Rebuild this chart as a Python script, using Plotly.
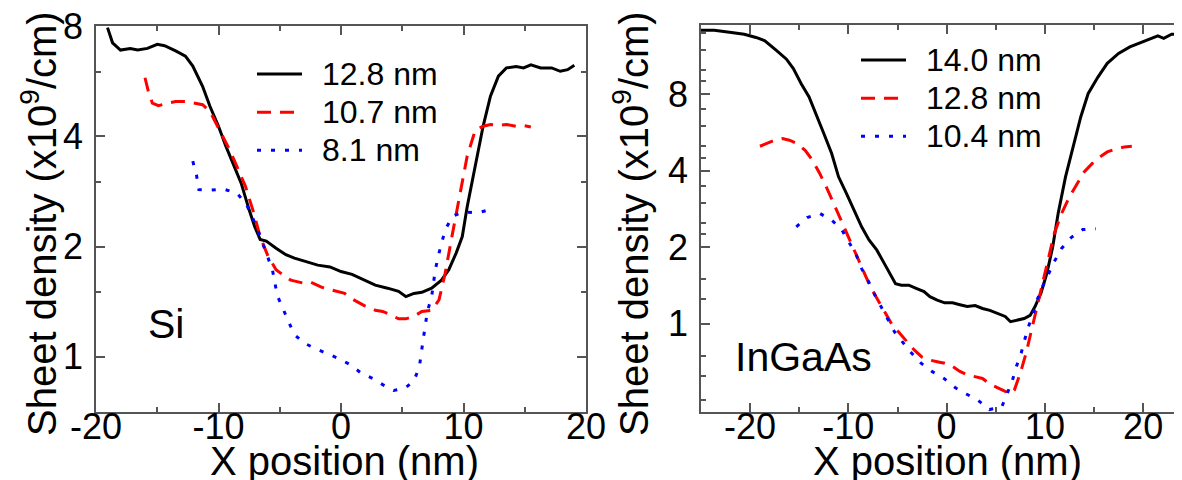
import plotly.graph_objects as go
import math

# ---------------- data: Si panel ----------------
si_x_128 = [-19.06, -18.65, -18.0, -17.2, -16.6, -15.8, -15.0, -14.4, -13.5, -12.7, -12.1, -11.3, -10.7,
            -10.0, -9.4, -8.8, -8.15, -7.5, -7.05, -6.6, -6.1, -5.3, -4.5, -3.8, -2.8, -1.9, -0.9, 0.0,
            0.9, 1.9, 2.8, 3.8, 4.7, 5.3, 5.95, 6.6, 7.4, 8.2, 8.8, 9.4, 9.9, 10.3, 10.95, 11.6, 12.2,
            12.85, 13.5, 14.3, 14.9, 15.5, 16.3, 17.2, 17.9, 18.5, 19.05]
si_y_128 = [7.92, 7.20, 6.88, 6.95, 6.88, 6.95, 7.13, 7.07, 6.84, 6.62, 6.22, 5.48, 4.83,
            4.26, 3.76, 3.38, 2.98, 2.52, 2.27, 2.09, 2.07, 1.98, 1.90, 1.86, 1.82, 1.78, 1.76, 1.71,
            1.68, 1.62, 1.57, 1.54, 1.51, 1.46, 1.49, 1.50, 1.54, 1.62, 1.73, 1.92, 2.13, 2.57, 3.31,
            4.26, 5.15, 5.84, 6.15, 6.20, 6.15, 6.27, 6.15, 6.15, 6.02, 6.08, 6.25]

si_x_107 = [-16.0, -15.7, -15.4, -14.9, -14.1, -13.5, -12.7, -11.9, -11.3, -10.7, -9.9, -9.1, -8.5,
            -7.8, -7.2, -6.6, -5.95, -5.3, -4.7, -4.1, -3.1, -2.5, -1.6, -0.6, 0.3, 0.9, 1.9, 2.8,
            3.4, 4.1, 4.7, 5.3, 5.95, 6.6, 7.4, 8.0, 8.5, 9.1, 9.7, 10.3, 10.97, 11.6, 12.2, 12.85,
            13.5, 14.3, 14.9, 15.5]
si_y_107 = [5.78, 5.26, 4.93, 4.85, 4.93, 4.98, 4.98, 4.93, 4.88, 4.68, 4.17, 3.68, 3.31,
            2.92, 2.52, 2.13, 1.88, 1.73, 1.67, 1.62, 1.59, 1.60, 1.55, 1.52, 1.49, 1.44, 1.38, 1.34,
            1.33, 1.30, 1.27, 1.27, 1.29, 1.33, 1.34, 1.43, 1.69, 2.17, 2.80, 3.53, 4.17, 4.26, 4.31,
            4.28, 4.31, 4.26, 4.28, 4.24]

si_x_81 = [-12.1, -11.8, -11.6, -10.7, -9.6, -8.5, -7.7, -6.9, -6.3, -5.6, -5.2, -4.7, -4.2, -3.8,
           -3.0, -2.0, -1.1, -0.2, 0.8, 1.7, 2.7, 3.4, 4.3, 5.2, 5.95, 6.4, 6.7, 7.05, 7.4, 7.7, 8.0,
           8.5, 9.1, 10.0, 11.1, 12.1]
si_y_81 = [3.42, 3.14, 2.86, 2.85, 2.87, 2.80, 2.60, 2.27, 2.00, 1.73, 1.47, 1.34, 1.23, 1.15,
           1.09, 1.05, 1.02, 0.99, 0.95, 0.90, 0.87, 0.84, 0.81, 0.82, 0.86, 0.94, 1.11, 1.33, 1.46,
           1.73, 1.92, 2.22, 2.42, 2.49, 2.47, 2.52]

# ---------------- data: InGaAs panel ----------------
ig_x_140 = [-25.0, -23.65, -22.1, -20.6, -19.4, -18.5, -17.3, -16.3, -15.6, -14.8, -14.0, -13.3, -12.5,
            -11.7, -11.0, -10.2, -9.4, -8.65, -7.9, -7.1, -6.35, -5.8, -5.2, -4.6, -3.85, -3.1, -2.3,
            -1.7, -0.96, -0.2, 0.6, 1.35, 2.1, 2.9, 3.65, 4.4, 5.2, 5.96, 6.5, 7.1, 7.9, 8.5, 9.0,
            9.6, 10.2, 10.8, 11.35, 12.1, 12.9, 13.65, 14.4, 15.4, 16.35, 17.5, 18.65, 19.8, 20.96,
            21.5, 22.1, 22.9, 23.85, 25.0]
ig_y_140 = [14.3, 14.3, 14.05, 13.8, 13.4, 13.0, 11.9, 11.0, 10.1, 8.81, 7.81, 6.72, 5.61,
            4.68, 3.79, 3.26, 2.80, 2.41, 2.14, 1.95, 1.73, 1.58, 1.44, 1.42, 1.42, 1.38, 1.34,
            1.28, 1.24, 1.21, 1.21, 1.19, 1.17, 1.18, 1.15, 1.13, 1.10, 1.07, 1.02, 1.03, 1.05, 1.08, 1.17,
            1.32, 1.58, 2.01, 2.72, 3.79, 4.97, 6.52, 8.05, 9.36, 10.6, 11.6, 12.3, 12.8, 13.4,
            13.6, 13.3, 13.8, 13.8, 13.9]

ig_x_128 = [-19.0, -18.3, -17.5, -16.7, -16.0, -15.2, -14.4, -13.65, -12.9, -12.1, -11.35, -10.8, -10.2,
            -9.4, -8.65, -7.9, -7.1, -6.35, -5.6, -4.8, -4.0, -3.3, -2.5, -1.7, -0.96, -0.2, 0.6, 1.35,
            2.1, 2.9, 3.65, 4.4, 5.2, 5.96, 6.5, 6.9, 7.5, 8.1, 8.65, 9.2, 9.8, 10.4, 10.96, 11.7,
            12.5, 13.3, 14.0, 14.8, 15.6, 16.35, 17.1, 18.1, 18.85]
ig_y_128 = [5.0, 5.12, 5.28, 5.36, 5.28, 5.12, 4.82, 4.40, 3.90, 3.36, 2.89, 2.56, 2.27,
            1.95, 1.68, 1.44, 1.26, 1.12, 1.00, 0.92, 0.85, 0.79, 0.74, 0.72, 0.71, 0.70, 0.68, 0.65,
            0.63, 0.62, 0.61, 0.58, 0.56, 0.54, 0.53, 0.55, 0.64, 0.77, 0.95, 1.17, 1.49, 1.84, 2.27, 2.72,
            3.16, 3.57, 3.96, 4.27, 4.54, 4.75, 4.86, 4.97, 5.0]

ig_x_104 = [-15.3, -14.2, -12.9, -11.65, -10.65, -9.9, -9.2, -8.65, -7.95, -7.4, -6.7, -6.0, -5.3,
            -4.5, -3.6, -2.6, -1.5, -0.27, 0.9, 2.0, 3.2, 4.35, 5.6, 6.15, 6.7, 7.1, 7.6, 7.96, 8.35,
            8.85, 9.2, 9.8, 10.4, 11.0, 11.7, 12.7, 13.85, 15.2]
ig_y_104 = [2.41, 2.62, 2.72, 2.55, 2.34, 2.09, 1.87, 1.65, 1.47, 1.32, 1.17, 1.04, 0.93,
            0.85, 0.77, 0.70, 0.65, 0.61, 0.56, 0.53, 0.50, 0.46, 0.47, 0.53, 0.60, 0.68, 0.77, 0.87, 0.98,
            1.11, 1.24, 1.41, 1.58, 1.77, 1.98, 2.19, 2.35, 2.37]

si_names = ["12.8 nm", "10.7 nm", "8.1 nm"]
ig_names = ["14.0 nm", "12.8 nm", "10.4 nm"]

y_tick_vals = [1, 2, 4, 8]
y_tick_text = ["1", "2", "4", "8"]
si_minor_y = [1.5, 3, 6]
ig_minor_y = [0.5, 0.625, 0.75, 1.25, 1.5, 2.25, 2.5, 3, 3.5, 4.5, 5, 6, 7, 9, 10, 12, 14]
x_ticks = [-20, -10, 0, 10, 20]
x_minor = [-15, -5, 5, 15]

FONT = "Liberation Sans, Arial, Helvetica, sans-serif"
W, H = 1182, 480
OFF = 8  # the page body adds an 8px margin; positions below are given in window pixels
AX = "#555555"


def px(xs):
    return (xs - OFF) / W


def py(ys):
    return 1 - (ys - OFF) / H


fig = go.Figure()


def add(x, y, name, color, dash, xa, ya, leg):
    label = "\u00a0\u00a0<span style='font-size:32px'>" + name + "</span>"
    fig.add_trace(go.Scatter(x=x, y=y, mode="lines", name=label, xaxis=xa, yaxis=ya, legend=leg,
                             line=dict(color=color, width=3, dash=dash)))


add(si_x_128, si_y_128, si_names[0], "black", "solid", "x", "y", "legend")
add(si_x_107, si_y_107, si_names[1], "#ff0000", "14px,9px", "x", "y", "legend")
add(si_x_81, si_y_81, si_names[2], "#0000ff", "4px,10px", "x", "y", "legend")
add(ig_x_140, ig_y_140, ig_names[0], "black", "solid", "x2", "y2", "legend2")
add(ig_x_128, ig_y_128, ig_names[1], "#ff0000", "14px,9px", "x2", "y2", "legend2")
add(ig_x_104, ig_y_104, ig_names[2], "#0000ff", "4px,10px", "x2", "y2", "legend2")

TICKFONT = dict(family=FONT, size=36, color="black")


def xax(domain, rng, anchor):
    return dict(domain=domain, range=rng, anchor=anchor, showgrid=False, zeroline=False,
                automargin=False, ticklabeloverflow="allow",
                showline=True, linecolor=AX, linewidth=1.5, mirror="ticks",
                ticks="inside", ticklen=9, tickwidth=1.5, tickcolor=AX,
                tickvals=x_ticks, ticktext=[str(v) for v in x_ticks],
                minor=dict(tickvals=x_minor, ticks="inside", ticklen=5, tickwidth=1.5, tickcolor=AX),
                tickfont=TICKFONT, ticklabelstandoff=-18)


def yax(domain, rng, anchor, minor_vals):
    return dict(domain=domain, type="log", range=rng, anchor=anchor, showgrid=False, zeroline=False,
                automargin=False, ticklabeloverflow="allow",
                showline=True, linecolor=AX, linewidth=1.5, mirror="ticks",
                ticks="inside", ticklen=9, tickwidth=1.5, tickcolor=AX,
                tickvals=y_tick_vals, ticktext=y_tick_text,
                minor=dict(tickvals=minor_vals, ticks="inside", ticklen=5, tickwidth=1.5, tickcolor=AX),
                tickfont=TICKFONT, ticklabelstandoff=4)


fig.update_layout(
    width=W, height=H, margin=dict(l=0, r=0, t=0, b=0, autoexpand=False),
    paper_bgcolor="white", plot_bgcolor="white",
    font=dict(family=FONT, color="black"),
    xaxis=xax([px(96), px(586)], [-20, 20], "y"),
    yaxis=yax([py(412), py(26)], [math.log10(1 / math.sqrt(2)), math.log10(8) + 1e-4], "x", si_minor_y),
    xaxis2=xax([px(701), 1.0], [-25, -25 + (W + OFF - 701) / 9.825], "y2"),
    yaxis2=yax([py(412), py(25)], [math.log10(0.45), math.log10(15)], "x2", ig_minor_y),
    legend=dict(x=px(252), y=py(50), xanchor="left", yanchor="top", bgcolor="rgba(0,0,0,0)",
                font=dict(family=FONT, size=27), itemwidth=45, tracegroupgap=0),
    legend2=dict(x=px(856), y=py(36), xanchor="left", yanchor="top", bgcolor="rgba(0,0,0,0)",
                 font=dict(family=FONT, size=27), itemwidth=45, tracegroupgap=0),
    showlegend=True,
)

ann_font = dict(family=FONT, size=40, color="black")
ytitle = "Sheet density (x10<sup>9</sup>/cm)"
fig.add_annotation(text=ytitle, xref="paper", yref="paper", x=px(39), y=py(224),
                   xanchor="center", yanchor="middle", textangle=-90, showarrow=False, font=ann_font)
fig.add_annotation(text=ytitle, xref="paper", yref="paper", x=px(631), y=py(224),
                   xanchor="center", yanchor="middle", textangle=-90, showarrow=False, font=ann_font)
fig.add_annotation(text="X position (nm)", xref="paper", yref="paper", x=px(344), y=py(461),
                   xanchor="center", yanchor="middle", showarrow=False, font=ann_font)
fig.add_annotation(text="X position (nm)", xref="paper", yref="paper", x=px(947), y=py(461),
                   xanchor="center", yanchor="middle", showarrow=False, font=ann_font)
fig.add_annotation(text="Si", xref="paper", yref="paper", x=px(166), y=py(324),
                   xanchor="center", yanchor="middle", showarrow=False, font=dict(family=FONT, size=41))
fig.add_annotation(text="InGaAs", xref="paper", yref="paper", x=px(803), y=py(357),
                   xanchor="center", yanchor="middle", showarrow=False, font=dict(family=FONT, size=41))

fig.write_html("out.html")
